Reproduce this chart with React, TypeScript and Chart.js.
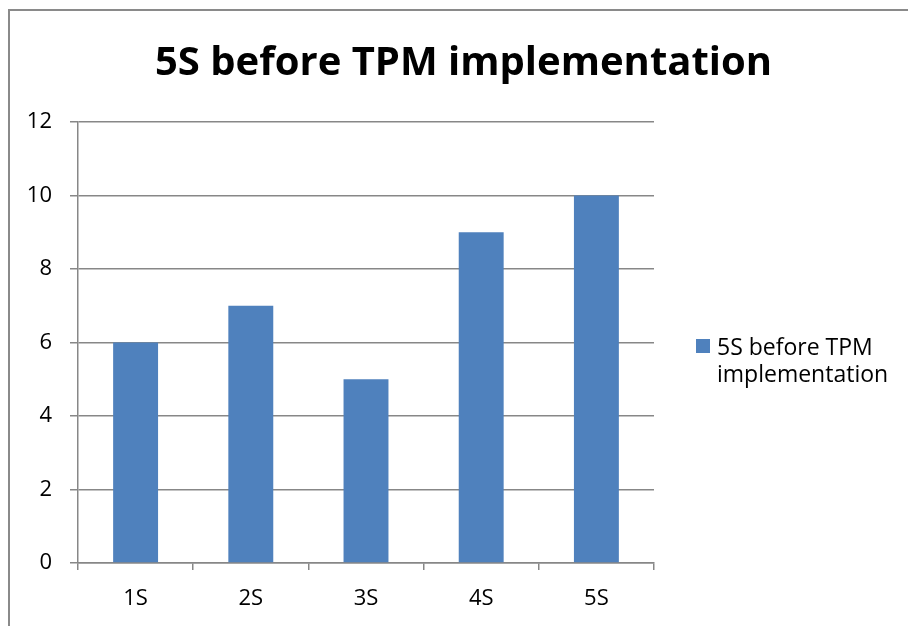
import React, { useEffect, useRef } from "react";
import { Chart, registerables } from "chart.js";

Chart.register(...registerables);

const categories = ["1S", "2S", "3S", "4S", "5S"];
const seriesLabel = "5S before TPM implementation";
const legendLines = ["5S before TPM", "implementation"];
const seriesValues = [6, 7, 5, 9, 10];
const titleText = "5S before TPM implementation";

const BAR = "#4F81BD";
const GRID = "#878787";
const FONT = "'Open Sans', 'DejaVu Sans', sans-serif";

const titleLegendPlugin = {
  id: "titleAndWrappedLegend",
  afterDraw(chart: any) {
    const ctx = chart.ctx;
    const ds = chart.data.datasets[0];
    ctx.save();
    // title
    ctx.fillStyle = "#000";
    ctx.font = `bold 40px ${FONT}`;
    ctx.textAlign = "center";
    ctx.textBaseline = "alphabetic";
    ctx.fillText(titleText, 463.5, 75);
    // legend
    ctx.fillStyle = ds.backgroundColor;
    ctx.fillRect(696, 339, 14, 14);
    ctx.fillStyle = "#000";
    ctx.font = `23px ${FONT}`;
    ctx.textAlign = "left";
    ctx.fillText(legendLines[0], 717, 355);
    ctx.fillText(legendLines[1], 717, 382);
    ctx.restore();
  },
};

export default function App() {
  const ref = useRef<HTMLCanvasElement>(null);
  useEffect(() => {
    if (!ref.current) return;
    const chart = new Chart(ref.current, {
      type: "bar",
      data: {
        labels: categories,
        datasets: [
          {
            label: seriesLabel,
            data: seriesValues,
            backgroundColor: BAR,
            barPercentage: 0.39,
            categoryPercentage: 1,
          },
        ],
      },
      options: {
        responsive: false,
        animation: false,
        layout: { padding: { left: 19, right: 254, top: 122, bottom: 0 } },
        plugins: {
          legend: { display: false },
          tooltip: { enabled: false },
          title: { display: false },
        },
        scales: {
          x: {
            grid: {
              offset: true,
              drawOnChartArea: false,
              drawTicks: true,
              tickLength: 7,
              color: GRID,
              lineWidth: 1.5,
            },
            border: { display: true, color: GRID, width: 1.5 },
            ticks: { color: "#000", font: { family: FONT, size: 22 }, padding: 16 },
            afterFit(scale: any) {
              scale.height = 63;
            },
          },
          y: {
            min: 0,
            max: 12,
            ticks: {
              stepSize: 2,
              color: "#000",
              font: { family: FONT, size: 22 },
              padding: 18,
            },
            grid: { color: GRID, lineWidth: 1.5, tickLength: 8 },
            border: { display: true, color: GRID, width: 1.5 },
            afterFit(scale: any) {
              scale.width = 59;
            },
          },
        },
      },
      plugins: [titleLegendPlugin],
    });
    return () => chart.destroy();
  }, []);

  return (
    <div
      style={{
        position: "fixed",
        left: 0,
        top: 0,
        width: 908,
        height: 626,
        overflow: "hidden",
        background: "#fff",
      }}
    >
      <div
        style={{
          position: "absolute",
          left: 8,
          top: 9,
          width: 1000,
          height: 800,
          borderLeft: "2px solid #8a8a8a",
          borderTop: "2px solid #8a8a8a",
          boxSizing: "border-box",
        }}
      />
      <canvas
        ref={ref}
        width={908}
        height={626}
        style={{ position: "absolute", left: 0, top: 0 }}
      />
    </div>
  );
}
